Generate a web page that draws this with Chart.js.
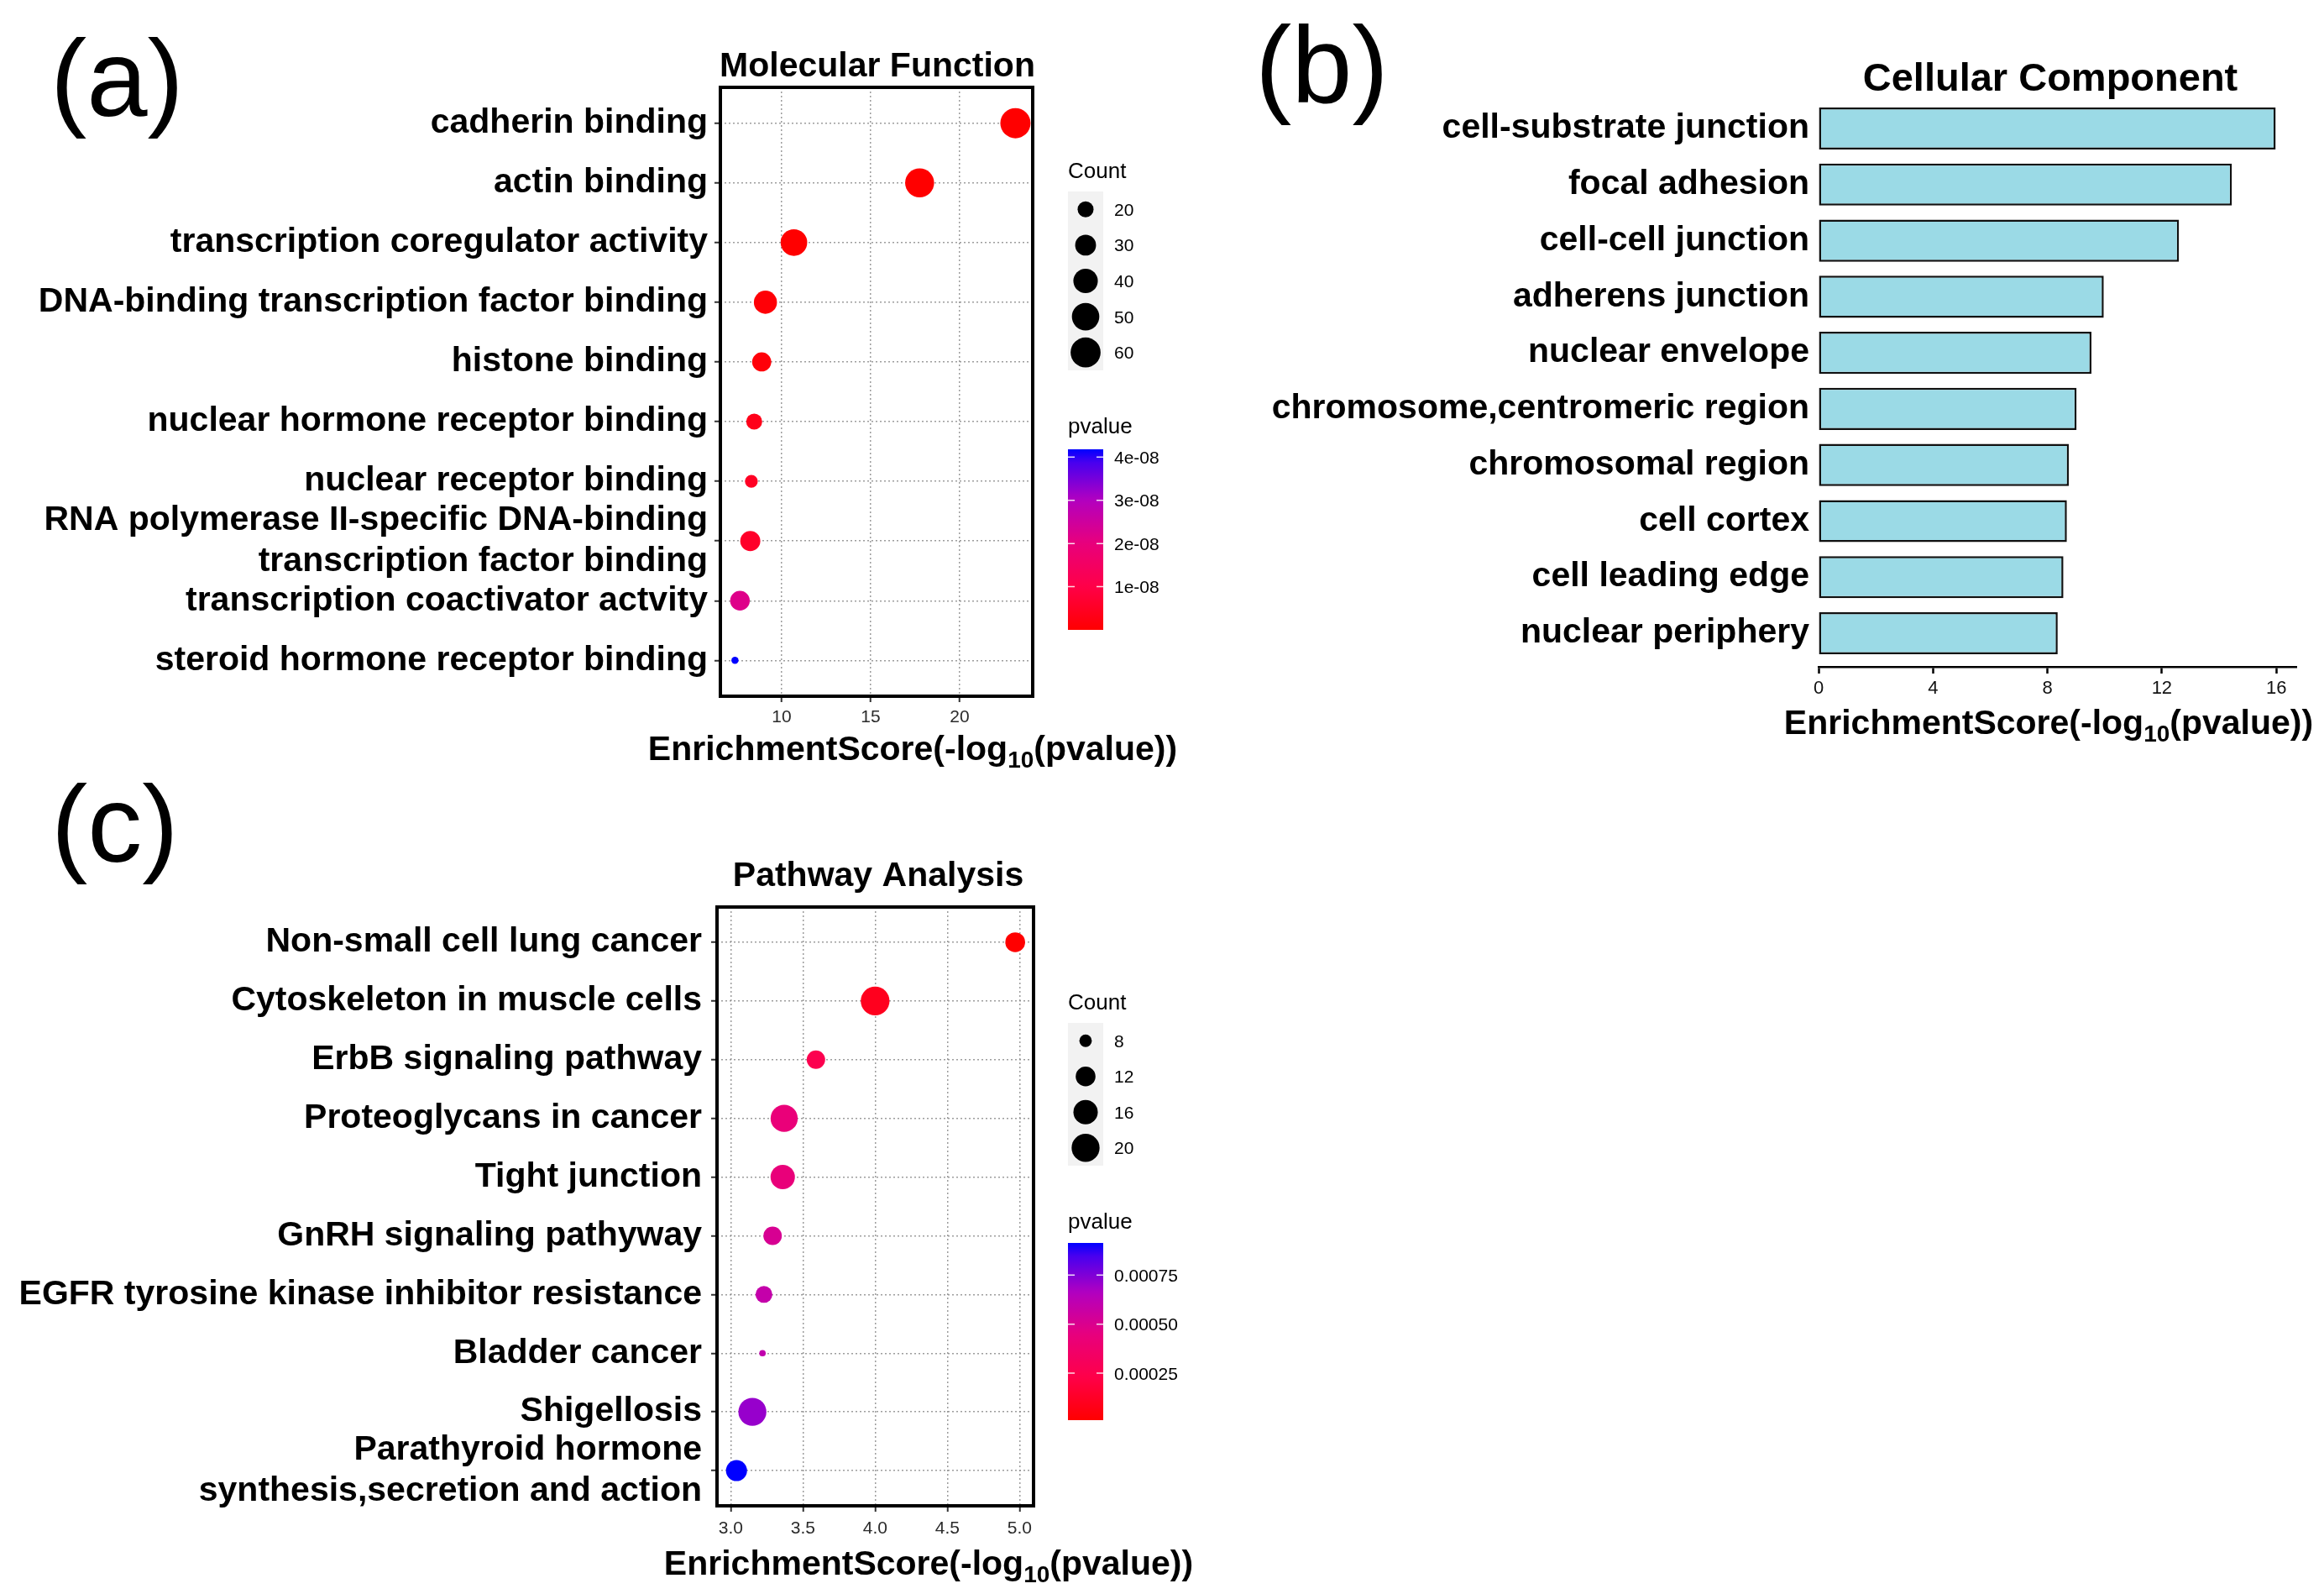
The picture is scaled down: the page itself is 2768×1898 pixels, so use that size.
<!DOCTYPE html>
<html><head><meta charset="utf-8">
<script src="https://cdn.jsdelivr.net/npm/chart.js@4.4.1/dist/chart.umd.min.js"></script>
<style>
html,body{margin:0;padding:0;background:#fff;}
body{width:2768px;height:1898px;position:relative;overflow:hidden;}
canvas{position:absolute;}
</style></head><body>
<canvas id="ca" width="1420" height="920" style="left:0px;top:0px"></canvas>
<canvas id="cb" width="1318" height="900" style="left:1450px;top:0px"></canvas>
<canvas id="cc" width="1450" height="978" style="left:0px;top:920px"></canvas>
<script>
// ---------- (a) Molecular Function ----------
const mfTerms = ['cadherin binding','actin binding','transcription coregulator activity','DNA-binding transcription factor binding','histone binding','nuclear hormone receptor binding','nuclear receptor binding',['RNA polymerase II-specific DNA-binding','transcription factor binding'],'transcription coactivator actvity','steroid hormone receptor binding'];
const mfScore = [23.13,17.75,10.69,9.09,8.88,8.46,8.30,8.24,7.66,7.38];
const mfCount = [61,56,47,36,26,20,16,28,27,13];
const mfPvalue = [7.4e-24,1.8e-18,2.0e-11,8.1e-10,1.3e-9,3.5e-9,5.0e-9,5.8e-9,2.2e-8,4.18e-8];
const mfCountBreaks = [20,30,40,50,60];
const mfPvalueBreaks = [1e-8,2e-8,3e-8,4e-8];
const mfPvalueLabels = ['1e-08','2e-08','3e-08','4e-08'];
const mfXTicks = [10,15,20];
const mfXTickLabels = ['10','15','20'];

// ---------- (b) Cellular Component ----------
const ccTerms = ['cell-substrate junction','focal adhesion','cell-cell junction','adherens junction','nuclear envelope','chromosome,centromeric region','chromosomal region','cell cortex','cell leading edge','nuclear periphery'];
const ccScore = [15.98,14.45,12.6,9.97,9.54,9.02,8.75,8.68,8.56,8.36];
const ccXTicks = [0,4,8,12,16];
const ccXTickLabels = ['0','4','8','12','16'];

// ---------- (c) Pathway Analysis ----------
const kpTerms = ['Non-small cell lung cancer','Cytoskeleton in muscle cells','ErbB signaling pathway','Proteoglycans in cancer','Tight junction','GnRH signaling pathyway','EGFR tyrosine kinase inhibitor resistance','Bladder cancer','Shigellosis',['Parathyroid hormone','synthesis,secretion and action']];
const kpScore = [4.97,4.00,3.59,3.37,3.36,3.29,3.23,3.22,3.15,3.04];
const kpCount = [12,21,11,19,16,11,10,7,20,13];
const kpPvalue = [1.07e-5,1.0e-4,2.58e-4,4.3e-4,4.37e-4,5.13e-4,5.9e-4,6.0e-4,7.08e-4,9.14e-4];
const kpCountBreaks = [8,12,16,20];
const kpPvalueBreaks = [0.00025,0.0005,0.00075];
const kpPvalueLabels = ['0.00025','0.00050','0.00075'];
const kpXTicks = [3.0,3.5,4.0,4.5,5.0];
const kpXTickLabels = ['3.0','3.5','4.0','4.5','5.0'];

const FONT = '"Liberation Sans", Arial, Helvetica, sans-serif';

// colour ramp red (low p) -> blue (high p), stops as seen in the colour bars
const RAMP = [[0,255,0,0],[0.24,255,0,72],[0.48,232,0,124],[0.72,178,0,192],[0.93,70,0,240],[1,0,0,255]];
function grad(t){
  t=Math.max(0,Math.min(1,t));
  for(let k=1;k<RAMP.length;k++){
    if(t<=RAMP[k][0]){const a=RAMP[k-1],b=RAMP[k],u=(t-a[0])/(b[0]-a[0]);
      return 'rgb('+Math.round(a[1]+(b[1]-a[1])*u)+','+Math.round(a[2]+(b[2]-a[2])*u)+','+Math.round(a[3]+(b[3]-a[3])*u)+')';}
  }
  return 'rgb(0,0,255)';
}

function drawAxisTitle(ctx,cx,base,size){
  const p1='EnrichmentScore(-log',p2='10',p3='(pvalue))';
  const ss=Math.round(size*0.68);
  ctx.font='bold '+size+'px '+FONT; const w1=ctx.measureText(p1).width,w3=ctx.measureText(p3).width;
  ctx.font='bold '+ss+'px '+FONT; const w2=ctx.measureText(p2).width;
  let x=cx-(w1+w2+w3)/2;
  ctx.fillStyle='#000';ctx.textAlign='left';ctx.textBaseline='alphabetic';
  ctx.font='bold '+size+'px '+FONT; ctx.fillText(p1,x,base); x+=w1;
  ctx.font='bold '+ss+'px '+FONT; ctx.fillText(p2,x,base+size*0.22); x+=w2;
  ctx.font='bold '+size+'px '+FONT; ctx.fillText(p3,x,base);
}

function decorPlugin(d){
  return {id:'decor',afterDraw(chart){
    const ctx=chart.ctx,a=chart.chartArea;
    ctx.save();
    if(d.frame){ctx.strokeStyle='#000';ctx.lineWidth=4;ctx.setLineDash([]);ctx.strokeRect(a.left,a.top,a.right-a.left,a.bottom-a.top);}
    ctx.fillStyle='#000';ctx.textAlign='center';ctx.textBaseline='alphabetic';
    ctx.font='bold '+d.title.size+'px '+FONT;ctx.fillText(d.title.text,d.title.x,d.title.y);
    drawAxisTitle(ctx,d.axis.x,d.axis.y,41);
    ctx.textAlign='left';ctx.font='130px '+FONT;ctx.fillText(d.letter.text,d.letter.x,d.letter.y);
    if(d.legend){
      const L=d.legend;
      ctx.fillStyle='#000';ctx.font='26px '+FONT;ctx.fillText('Count',L.x,L.countBase);
      ctx.fillStyle='#F2F2F2';ctx.fillRect(L.x,L.keyTop,L.keyW,L.keyStep*L.breaks.length);
      L.breaks.forEach((b,i)=>{
        const cy=L.keyTop+L.keyStep*(i+0.5);
        ctx.fillStyle='#000';ctx.beginPath();ctx.arc(L.x+L.keyW/2,cy,L.diam(b)/2,0,Math.PI*2);ctx.fill();
        ctx.font='21px '+FONT;ctx.fillText(String(b),L.x+L.keyW+13,cy+7.5);
      });
      ctx.font='26px '+FONT;ctx.fillText('pvalue',L.x,L.pBase);
      const g=ctx.createLinearGradient(0,L.barBottom,0,L.barTop);
      for(let k=0;k<=40;k++){g.addColorStop(k/40,grad(k/40));}
      ctx.fillStyle=g;ctx.fillRect(L.x,L.barTop,L.keyW,L.barBottom-L.barTop);
      L.pBreaks.forEach((p,i)=>{
        const y=L.barBottom-(p-L.pMin)/(L.pMax-L.pMin)*(L.barBottom-L.barTop);
        ctx.strokeStyle='rgba(255,255,255,0.85)';ctx.lineWidth=1.5;
        ctx.beginPath();ctx.moveTo(L.x,y);ctx.lineTo(L.x+8,y);ctx.moveTo(L.x+L.keyW-8,y);ctx.lineTo(L.x+L.keyW,y);ctx.stroke();
        ctx.fillStyle='#000';ctx.font='21px '+FONT;ctx.fillText(L.pLabels[i],L.x+L.keyW+13,y+7.5);
      });
    }
    ctx.restore();
  }};
}

function dotChart(id,c){
  const cMin=Math.min(...c.count),cMax=Math.max(...c.count);
  const pMin=Math.min(...c.pval),pMax=Math.max(...c.pval);
  const diam=v=>c.dmin+(c.dmax-c.dmin)*Math.sqrt(Math.max(0,(v-cMin)/(cMax-cMin)));
  const col=p=>grad((p-pMin)/(pMax-pMin));
  const el=document.getElementById(id);
  const W=el.width,H=el.height;
  const gridCommon={color:'rgba(140,140,140,0.85)',lineWidth:1.5,drawTicks:true,tickLength:7,tickColor:'#333',tickWidth:2};
  new Chart(el,{
    type:'scatter',
    data:{datasets:[{data:c.score.map((s,i)=>({x:s,y:i})),
      pointRadius:ctx=>diam(c.count[ctx.dataIndex])/2,
      pointHoverRadius:ctx=>diam(c.count[ctx.dataIndex])/2,
      pointBackgroundColor:ctx=>col(c.pval[ctx.dataIndex]),
      pointBorderWidth:0,borderWidth:0}]},
    options:{responsive:false,animation:false,devicePixelRatio:1,events:[],
      layout:{padding:{left:0,top:c.area.top,right:W-c.area.right,bottom:0}},
      plugins:{legend:{display:false},tooltip:{enabled:false}},
      scales:{
        x:{type:'linear',min:c.xMin,max:c.xMax,
          afterBuildTicks:s=>{s.ticks=c.xTicks.map(v=>({value:v}));},
          afterFit:s=>{s.height=H-c.area.bottom;},
          ticks:{autoSkip:false,maxRotation:0,font:{family:FONT,size:21},color:'#2b2b2b',padding:c.xPad,callback:(v,i)=>c.xTickLabels[i]},
          grid:gridCommon,border:{display:false,dash:[2,3]}},
        y:{type:'linear',reverse:true,min:-0.6,max:c.terms.length-0.4,
          afterBuildTicks:s=>{s.ticks=c.terms.map((t,i)=>({value:i}));},
          afterFit:s=>{s.width=c.area.left;},
          ticks:{autoSkip:false,font:{family:FONT,size:41,weight:'bold',lineHeight:1.2},color:'#000',padding:c.yPad,callback:v=>c.terms[Math.round(v)]},
          grid:gridCommon,border:{display:false,dash:[2,3]}}
      }},
    plugins:[decorPlugin({frame:true,title:c.title,axis:c.axis,letter:c.letter,
      legend:Object.assign({diam,pMin,pMax},c.legend)})]
  });
}

// (a)
dotChart('ca',{terms:mfTerms,score:mfScore,count:mfCount,pval:mfPvalue,
  xMin:6.56,xMax:24.1,xTicks:mfXTicks,xTickLabels:mfXTickLabels,
  area:{left:858,top:104,right:1230,bottom:829},xPad:6,yPad:8,dmin:8.5,dmax:36,
  title:{text:'Molecular Function',x:1045,y:91,size:41},
  axis:{x:1087,y:905},letter:{text:'(a)',x:60,y:138},
  legend:{x:1272,keyW:42,countBase:212,keyTop:228,keyStep:42.6,breaks:mfCountBreaks,
    pBase:516,barTop:535,barBottom:750,pBreaks:mfPvalueBreaks,pLabels:mfPvalueLabels}});

// (c)
dotChart('cc',{terms:kpTerms,score:kpScore,count:kpCount,pval:kpPvalue,
  xMin:2.905,xMax:5.097,xTicks:kpXTicks,xTickLabels:kpXTickLabels,
  area:{left:854,top:160,right:1231,bottom:873},xPad:8,yPad:11,dmin:7.7,dmax:34.3,
  title:{text:'Pathway Analysis',x:1046,y:135,size:41},
  axis:{x:1106,y:955},letter:{text:'(c)',x:61,y:106},
  legend:{x:1272,keyW:42,countBase:282,keyTop:298,keyStep:42.5,breaks:kpCountBreaks,
    pBase:543,barTop:560,barBottom:771,pBreaks:kpPvalueBreaks,pLabels:kpPvalueLabels}});

// (b)
(function(){
  const el=document.getElementById('cb');const W=el.width,H=el.height;
  const area={left:716,top:113,right:1285,bottom:794};
  new Chart(el,{
    type:'bar',
    data:{datasets:[{data:ccScore.map((v,i)=>({x:v,y:i})),backgroundColor:'#9BDAE6',borderColor:'#111',borderWidth:2.5,borderSkipped:false,barPercentage:0.75,categoryPercentage:1}]},
    options:{indexAxis:'y',responsive:false,animation:false,devicePixelRatio:1,events:[],
      layout:{padding:{left:0,top:area.top,right:W-area.right,bottom:0}},
      plugins:{legend:{display:false},tooltip:{enabled:false}},
      scales:{
        x:{type:'linear',min:0,max:16.7,offset:false,
          afterBuildTicks:s=>{s.ticks=ccXTicks.map(v=>({value:v}));},
          afterFit:s=>{s.height=H-area.bottom;},
          ticks:{autoSkip:false,maxRotation:0,font:{family:FONT,size:22},color:'#111',padding:5,callback:(v,i)=>ccXTickLabels[i]},
          grid:{offset:false,drawOnChartArea:false,drawTicks:true,tickLength:8,tickColor:'#000',tickWidth:2.5},
          border:{display:true,color:'#000',width:2.5}},
        y:{type:'linear',reverse:true,min:-0.6,max:9.6,offset:false,
          afterBuildTicks:s=>{s.ticks=ccTerms.map((t,i)=>({value:i}));},
          afterFit:s=>{s.width=area.left;},
          ticks:{autoSkip:false,font:{family:FONT,size:41,weight:'bold'},color:'#000',padding:11,callback:v=>ccTerms[Math.round(v)]},
          grid:{display:false,drawTicks:false,offset:false},border:{display:false}}
      }},
    plugins:[decorPlugin({frame:false,title:{text:'Cellular Component',x:992,y:108,size:47},
      axis:{x:990,y:874},letter:{text:'(b)',x:45,y:122}})]
  });
})();
</script>
</body></html>
